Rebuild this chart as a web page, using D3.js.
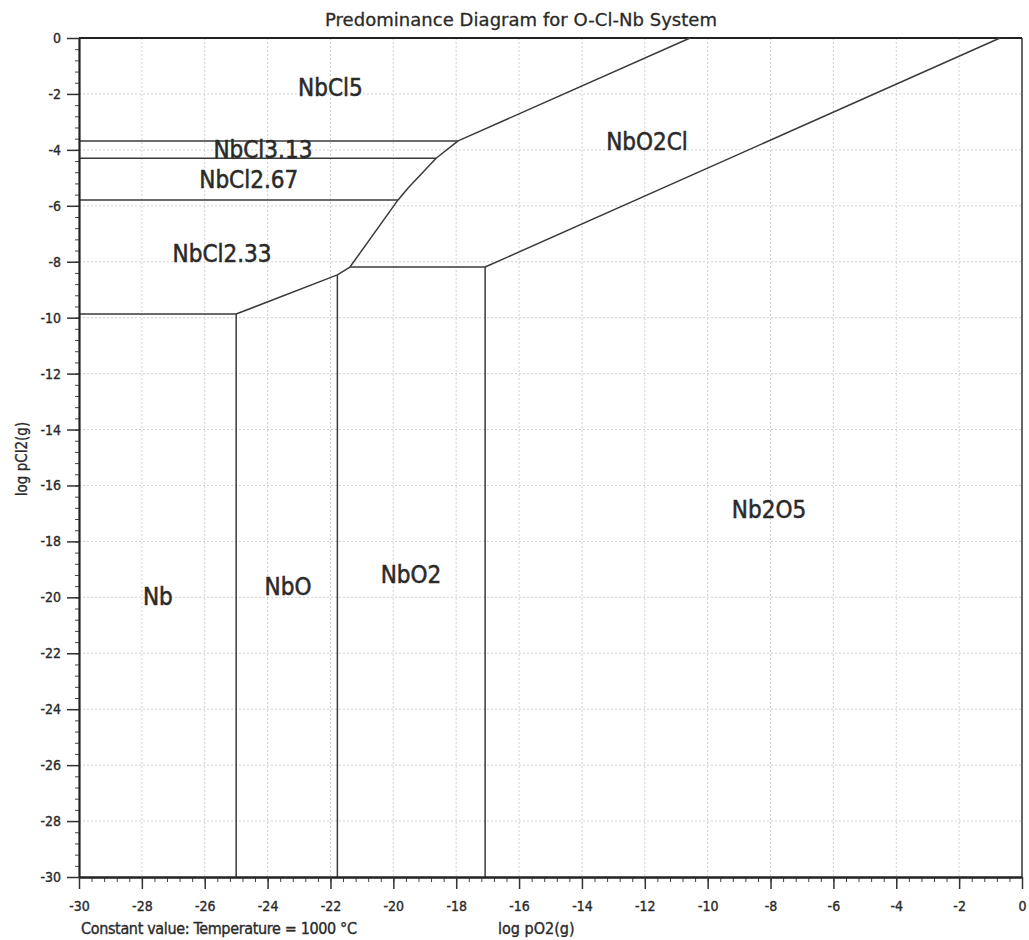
<!DOCTYPE html>
<html>
<head>
<meta charset="utf-8">
<script src="https://cdn.jsdelivr.net/npm/d3@7"></script>
<style>
  html, body { margin: 0; padding: 0; background: #fff; }
  svg { display: block; font-family: "DejaVu Sans Condensed", "DejaVu Sans", sans-serif; }
</style>
</head>
<body>
<svg id="chart" width="1029" height="940"></svg>
<script>
// Axis ranges and tick labels (log10 partial pressures)
const xDomain = [-30, 0];
const yDomain = [-30, 0];
const xTicks = [-30, -28, -26, -24, -22, -20, -18, -16, -14, -12, -10, -8, -6, -4, -2, 0];
const yTicks = [0, -2, -4, -6, -8, -10, -12, -14, -16, -18, -20, -22, -24, -26, -28, -30];

// Phase boundaries as [log pO2, log pCl2] polylines
const nbcl5_nbcl313   = [[-30, -3.68], [-17.94, -3.68]];
const nbcl313_nbcl267 = [[-30, -4.30], [-18.64, -4.30]];
const nbcl267_nbcl233 = [[-30, -5.79], [-19.85, -5.79]];
const nbcl233_nb      = [[-30, -9.87], [-25.0, -9.87]];
const nb_nbo          = [[-25.0, -9.87], [-25.0, -30]];
const nbo_nbo2        = [[-21.78, -8.47], [-21.78, -30]];
const nbo2_nb2o5      = [[-17.08, -8.19], [-17.08, -30]];
const nbo2_nbo2cl     = [[-21.38, -8.19], [-17.08, -8.19]];
const nbcl233_oxides  = [[-25.0, -9.87], [-21.78, -8.47], [-21.38, -8.19]];
const chlorides_nbo2cl = [[-21.38, -8.19], [-19.85, -5.79], [-19.53, -5.36], [-18.64, -4.30], [-17.94, -3.68]];
const nbcl5_nbo2cl    = [[-17.94, -3.68], [-10.56, 0]];
const nbo2cl_nb2o5    = [[-17.08, -8.19], [-0.70, 0]];

const boundaries = [
  nbcl5_nbcl313, nbcl313_nbcl267, nbcl267_nbcl233, nbcl233_nb,
  nb_nbo, nbo_nbo2, nbo2_nb2o5, nbo2_nbo2cl,
  nbcl233_oxides, chlorides_nbo2cl, nbcl5_nbo2cl, nbo2cl_nb2o5
];

// Predominant species labels and their positions
const regionNames = ["NbCl5", "NbCl3.13", "NbCl2.67", "NbCl2.33", "NbO2Cl", "Nb2O5", "Nb", "NbO", "NbO2"];
const regionX     = [-22.0, -24.15, -24.6, -25.45, -11.93, -8.05, -27.49, -23.35, -19.44];
const regionY     = [-1.8, -4.0, -5.08, -7.72, -3.72, -16.88, -19.99, -19.63, -19.2];

const svg = d3.select("#chart");
const margin = { left: 79, top: 38, right: 1029 - 1022, bottom: 940 - 877 };
const W = 1029 - margin.left - margin.right;
const H = 940 - margin.top - margin.bottom;

const x = d3.scaleLinear().domain(xDomain).range([0, W]);
const y = d3.scaleLinear().domain(yDomain).range([H, 0]);

const g = svg.append("g").attr("transform", `translate(${margin.left},${margin.top})`);

// Dotted grid
g.append("g").selectAll("line.gx")
  .data(xTicks.filter(v => v !== xDomain[0] && v !== xDomain[1]))
  .join("line")
  .attr("x1", d => x(d)).attr("x2", d => x(d))
  .attr("y1", 0).attr("y2", H)
  .attr("stroke", "#d2d2d2").attr("stroke-width", 1).attr("stroke-dasharray", "2,2");
g.append("g").selectAll("line.gy")
  .data(yTicks.filter(v => v !== yDomain[0] && v !== yDomain[1]))
  .join("line")
  .attr("x1", 0).attr("x2", W)
  .attr("y1", d => y(d)).attr("y2", d => y(d))
  .attr("stroke", "#d2d2d2").attr("stroke-width", 1).attr("stroke-dasharray", "2,2");

// Frame: top and right edges
g.append("line").attr("x1", 0).attr("x2", W).attr("y1", 0).attr("y2", 0)
  .attr("stroke", "#222").attr("stroke-width", 2.2);
g.append("line").attr("x1", W).attr("x2", W).attr("y1", 0).attr("y2", H)
  .attr("stroke", "#333").attr("stroke-width", 1.5);

// Phase boundary lines
const line = d3.line().x(d => x(d[0])).y(d => y(d[1]));
g.append("g").selectAll("path")
  .data(boundaries)
  .join("path")
  .attr("d", line)
  .attr("fill", "none")
  .attr("stroke", "#3a3a3a")
  .attr("stroke-width", 1.5)
  .attr("stroke-linejoin", "round");

// Minor ticks every 0.4 units
const minorVals = d3.range(-30, 0.001, 0.4).map(v => +v.toFixed(2));

const yMinor = g.append("g").call(d3.axisLeft(y).tickValues(minorVals).tickSize(4).tickFormat(""));
yMinor.select(".domain").remove();
yMinor.selectAll("line").attr("stroke", "#444");

const xMinor = g.append("g").attr("transform", `translate(0,${H})`)
  .call(d3.axisBottom(x).tickValues(minorVals).tickSize(5).tickFormat(""));
xMinor.select(".domain").remove();
xMinor.selectAll("line").attr("stroke", "#444");

// Heavier text rendering for the small labels
function heavy(sel, w) {
  sel.attr("fill", "#2a2a2a").attr("stroke", "#2a2a2a").attr("stroke-width", w);
}

// Major axes
const fmt = d => d3.format("d")(d).replace("\u2212", "-");
const yAxis = g.append("g")
  .call(d3.axisLeft(y).tickValues(yTicks).tickSize(12).tickSizeOuter(0).tickPadding(6).tickFormat(fmt));
yAxis.select(".domain").attr("stroke", "#222").attr("stroke-width", 2.2);
yAxis.selectAll(".tick line").attr("stroke", "#333").attr("stroke-width", 1.5);
yAxis.selectAll(".tick text")
  .attr("font-size", 14)
  .attr("font-family", "'DejaVu Sans Condensed', 'DejaVu Sans', sans-serif")
  .call(heavy, 0.35);

const xAxis = g.append("g").attr("transform", `translate(0,${H})`)
  .call(d3.axisBottom(x).tickValues(xTicks).tickSize(12).tickSizeOuter(0).tickPadding(12).tickFormat(fmt));
xAxis.select(".domain").attr("stroke", "#222").attr("stroke-width", 2.6);
xAxis.selectAll(".tick line").attr("stroke", "#333").attr("stroke-width", 1.5);
xAxis.selectAll(".tick text")
  .attr("font-size", 14)
  .attr("font-family", "'DejaVu Sans Condensed', 'DejaVu Sans', sans-serif")
  .call(heavy, 0.35);

// Region labels
g.append("g").selectAll("text")
  .data(regionNames)
  .join("text")
  .attr("x", (d, i) => x(regionX[i]))
  .attr("y", (d, i) => y(regionY[i]))
  .attr("text-anchor", "middle")
  .attr("dominant-baseline", "central")
  .attr("font-size", 24)
  .call(heavy, 0.5)
  .text(d => d);

// Title and axis titles
svg.append("text")
  .attr("x", 521).attr("y", 26)
  .attr("text-anchor", "middle")
  .attr("font-size", 18)
  .attr("font-family", "'DejaVu Sans', sans-serif")
  .attr("textLength", 392)
  .call(heavy, 0.3)
  .text("Predominance Diagram for O-Cl-Nb System");

svg.append("text")
  .attr("x", 81).attr("y", 934)
  .attr("font-size", 16)
  .attr("textLength", 276)
  .call(heavy, 0.35)
  .text("Constant value: Temperature = 1000 \u00B0C");

svg.append("text")
  .attr("x", 498).attr("y", 934)
  .attr("font-size", 16)
  .call(heavy, 0.35)
  .text("log pO2(g)");

svg.append("text")
  .attr("transform", "translate(27,459) rotate(-90)")
  .attr("text-anchor", "middle")
  .attr("font-size", 15)
  .call(heavy, 0.3)
  .text("log pCl2(g)");
</script>
</body>
</html>
